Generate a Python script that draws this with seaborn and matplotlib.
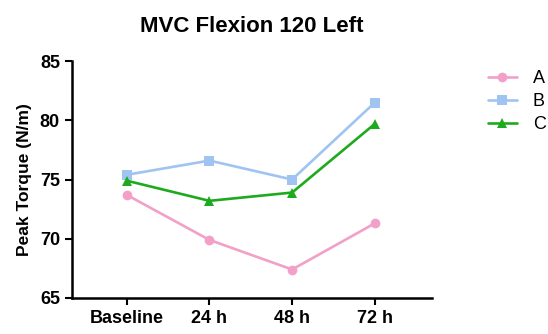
import pandas as pd
import matplotlib.pyplot as plt
import seaborn as sns

timepoints = ["Baseline", "24 h", "48 h", "72 h"]
group_a = [73.7, 69.9, 67.4, 71.3]
group_b = [75.4, 76.6, 75.0, 81.5]
group_c = [74.9, 73.2, 73.9, 79.7]

df = pd.DataFrame({
    "time": timepoints * 3,
    "torque": group_a + group_b + group_c,
    "group": ["A"] * 4 + ["B"] * 4 + ["C"] * 4,
})
df["x"] = df["time"].map({t: i for i, t in enumerate(timepoints)})

sns.set_style("ticks")
plt.rcParams["font.family"] = ["Liberation Sans", "DejaVu Sans"]
plt.rcParams["text.color"] = "black"
plt.rcParams["axes.labelcolor"] = "black"
plt.rcParams["xtick.color"] = "black"
plt.rcParams["ytick.color"] = "black"

palette = {"A": "#F2A0C8", "B": "#A0C4F2", "C": "#1EAA1E"}
markers = {"A": "o", "B": "s", "C": "^"}

fig = plt.figure(figsize=(5.48, 3.34), dpi=100)
ax = fig.add_axes([0.131, 0.108, 0.657, 0.709])

sns.lineplot(data=df, x="x", y="torque", hue="group", style="group",
             palette=palette, markers=markers, dashes=False,
             linewidth=1.9, markersize=7, markeredgewidth=0, ax=ax)

ax.set_xlim(-0.665, 3.69)
ax.set_ylim(65, 85)
ax.set_xticks(range(len(timepoints)))
ax.set_xticklabels(timepoints, fontweight="bold", fontsize=13)
ax.set_yticks([65, 70, 75, 80, 85])
ax.set_yticklabels(["65", "70", "75", "80", "85"], fontweight="bold", fontsize=13)
ax.set_xlabel("")
ax.set_ylabel("Peak Torque (N/m)", fontweight="bold", fontsize=12.5, labelpad=6)
ax.set_title("MVC Flexion 120 Left", fontweight="bold", fontsize=16, pad=21)
ax.tick_params(width=1.5, length=5, color="black")
for s in ["left", "bottom"]:
    ax.spines[s].set_linewidth(1.8)
    ax.spines[s].set_color("black")
sns.despine(ax=ax)

ax.legend(title=None, frameon=False, loc="upper left", bbox_to_anchor=(1.11, 1.03),
          fontsize=13, handlelength=1.6, handletextpad=0.9, labelspacing=0.32)

fig.savefig("out.png", dpi=100)
